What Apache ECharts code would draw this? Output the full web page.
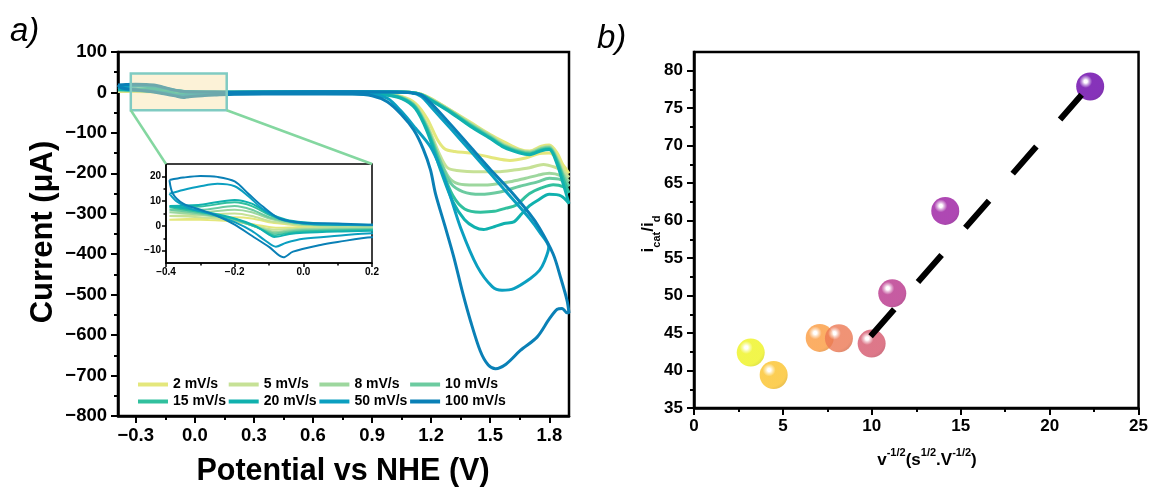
<!DOCTYPE html>
<html><head><meta charset="utf-8">
<script src="https://cdn.jsdelivr.net/npm/echarts@6/dist/echarts.min.js"></script>
<style>html,body{margin:0;padding:0;background:#fff}#c{width:1151px;height:491px}</style>
</head><body><div id="c"></div>
<script>
// ---------- data ----------
const scanRates = ['2 mV/s','5 mV/s','8 mV/s','10 mV/s','15 mV/s','20 mV/s','50 mV/s','100 mV/s'];
const cv2 = [[-0.39,2.5],[-0.3,2.5],[-0.2,1.7],[-0.14,0.5],[-0.1,-0.5],[-0.08,-0.8],[-0.04,-0.7],[0,-0.5],[0.1,-0.4],[0.2,-0.3],[0.5,-0.5],[0.8,-1],[0.95,-3],[1.05,-10],[1.12,-27],[1.18,-65],[1.23,-115],[1.27,-140],[1.32,-146],[1.4,-150],[1.5,-160],[1.6,-168],[1.68,-162],[1.74,-152],[1.8,-150],[1.85,-168],[1.9,-200],
  [1.87,-180],[1.84,-150],[1.8,-130],[1.76,-133],[1.7,-145],[1.65,-141],[1.57,-122],[1.5,-104],[1.4,-74],[1.3,-44],[1.2,-15],[1.15,-4],[1.1,0],[1.0,1],[0.6,1],[0.2,0.2],[0.1,-0.2],[0,0],[-0.05,0.7],[-0.1,1.5],[-0.15,3],[-0.2,3.5],[-0.3,3],[-0.39,2.5]];
const cv5 = [[-0.39,4],[-0.3,3.5],[-0.2,2],[-0.14,0],[-0.1,-1.3],[-0.085,-1.6],[-0.04,-1.3],[0,-1],[0.1,-0.8],[0.2,-0.7],[0.5,-1],[0.8,-1.5],[0.95,-3],[1.05,-11],[1.12,-32],[1.18,-80],[1.24,-150],[1.28,-185],[1.33,-193],[1.45,-196],[1.55,-196],[1.62,-192],[1.7,-186],[1.77,-178],[1.83,-185],[1.87,-195],[1.9,-210],
  [1.87,-192],[1.84,-160],[1.8,-133],[1.76,-136],[1.7,-147],[1.65,-143],[1.57,-128],[1.5,-106],[1.4,-76],[1.3,-45],[1.2,-16],[1.15,-4],[1.1,0],[1.0,1],[0.6,1],[0.2,0.2],[0.1,0],[0,0.3],[-0.05,1],[-0.1,2],[-0.15,4],[-0.2,5],[-0.3,4.5],[-0.39,4]];
const cv8 = [[-0.39,5.5],[-0.3,4.5],[-0.2,2.3],[-0.14,-0.3],[-0.1,-2],[-0.085,-2.4],[-0.04,-1.8],[0,-1.4],[0.1,-1.1],[0.2,-1],[0.5,-1.2],[0.8,-1.6],[0.95,-3.5],[1.05,-12],[1.12,-34],[1.18,-85],[1.24,-160],[1.29,-210],[1.34,-226],[1.42,-229],[1.5,-228],[1.6,-221],[1.68,-212],[1.74,-205],[1.8,-200],[1.86,-206],[1.9,-220],
  [1.87,-200],[1.84,-165],[1.8,-135],[1.76,-138],[1.7,-148],[1.65,-144],[1.57,-130],[1.5,-108],[1.4,-78],[1.3,-46],[1.2,-17],[1.15,-5],[1.1,0],[1.0,1],[0.6,1.2],[0.2,0.3],[0.1,0.2],[0,0.5],[-0.05,1.5],[-0.1,3],[-0.15,5.5],[-0.2,6.5],[-0.3,5.5],[-0.39,5.5]];
const cv10 = [[-0.39,6.5],[-0.3,5],[-0.2,2.5],[-0.14,-0.3],[-0.1,-2.5],[-0.085,-3],[-0.04,-2.3],[0,-1.8],[0.1,-1.5],[0.2,-1.3],[0.5,-1.5],[0.8,-2],[0.95,-4],[1.05,-13],[1.12,-35],[1.18,-88],[1.25,-175],[1.3,-225],[1.36,-245],[1.45,-252],[1.55,-246],[1.65,-232],[1.74,-221],[1.8,-212],[1.86,-216],[1.9,-232],
  [1.87,-205],[1.84,-168],[1.8,-137],[1.76,-140],[1.7,-150],[1.65,-146],[1.57,-132],[1.5,-110],[1.4,-80],[1.3,-47],[1.2,-18],[1.15,-5],[1.1,0],[1.0,1],[0.6,1.3],[0.2,0.4],[0.1,0.4],[0,0.8],[-0.05,2],[-0.1,3.5],[-0.15,6.5],[-0.2,8],[-0.3,6.5],[-0.39,6.5]];
const cv15 = [[-0.39,7.5],[-0.3,5.5],[-0.2,2.8],[-0.14,-0.3],[-0.1,-3],[-0.085,-3.8],[-0.04,-2.8],[0,-2.3],[0.1,-1.9],[0.2,-1.7],[0.5,-1.8],[0.8,-2.2],[0.95,-4.5],[1.05,-14],[1.12,-37],[1.18,-92],[1.25,-185],[1.31,-255],[1.37,-288],[1.45,-296],[1.52,-294],[1.58,-286],[1.63,-279],[1.7,-250],[1.76,-236],[1.82,-228],[1.87,-233],[1.9,-248],
  [1.87,-212],[1.84,-172],[1.8,-139],[1.76,-142],[1.7,-152],[1.65,-148],[1.57,-134],[1.5,-112],[1.4,-82],[1.3,-48],[1.2,-19],[1.15,-6],[1.1,0],[1.0,1],[0.6,1.4],[0.2,0.4],[0.1,0.5],[0,1],[-0.05,2],[-0.1,4.5],[-0.15,8],[-0.2,9.5],[-0.3,7.8],[-0.39,7.5]];
const cv20 = [[-0.39,8],[-0.3,6],[-0.2,3],[-0.14,0],[-0.1,-3.5],[-0.085,-4.5],[-0.04,-3.3],[0,-2.8],[0.1,-2.3],[0.2,-2],[0.5,-2],[0.8,-2.5],[0.95,-5],[1.05,-15],[1.12,-40],[1.18,-97],[1.25,-195],[1.31,-270],[1.37,-315],[1.42,-333],[1.467,-339],[1.52,-332],[1.57,-324],[1.62,-320],[1.66,-300],[1.7,-280],[1.74,-267],[1.8,-252],[1.86,-256],[1.9,-275],
  [1.87,-225],[1.84,-178],[1.8,-141],[1.76,-144],[1.7,-154],[1.65,-150],[1.57,-136],[1.5,-114],[1.4,-84],[1.3,-50],[1.2,-20],[1.15,-6],[1.1,0],[1.0,1],[0.6,1.5],[0.2,0.5],[0.1,0.6],[0,1.5],[-0.05,2.5],[-0.1,5],[-0.15,9],[-0.2,10.5],[-0.3,8.5],[-0.39,8]];
const cv50 = [[-0.39,13],[-0.37,10],[-0.33,7],[-0.3,6],[-0.25,4],[-0.2,1.5],[-0.15,-2],[-0.11,-6],[-0.08,-8.4],[-0.05,-6.8],[0,-5.2],[0.1,-4],[0.2,-3],[0.5,-2.5],[0.8,-3],[0.9,-5],[0.98,-15],[1.045,-45],[1.12,-88],[1.197,-135],[1.25,-190],[1.29,-245],[1.35,-335],[1.434,-430],[1.51,-480],[1.56,-489],[1.62,-485],[1.704,-460],[1.75,-440],[1.775,-418],[1.797,-383],
  [1.75,-345],[1.7,-312],[1.6,-256],[1.5,-200],[1.4,-145],[1.3,-90],[1.2,-36],[1.15,-10],[1.1,-1],[1.0,1],[0.6,1.5],[0.2,0.3],[0.1,0.5],[0,1],[-0.07,3],[-0.12,7],[-0.16,12],[-0.2,16],[-0.25,17],[-0.3,16],[-0.35,14.5],[-0.39,13]];
const cv100 = [[-0.39,18.5],[-0.38,13],[-0.35,9],[-0.3,6.5],[-0.25,4],[-0.2,0.5],[-0.15,-4],[-0.1,-8.5],[-0.058,-12.7],[-0.03,-10.4],[0.05,-7.7],[0.1,-6.5],[0.2,-4.6],[0.5,-3.5],[0.8,-4],[0.9,-8],[0.977,-23],[1.05,-55],[1.112,-93],[1.16,-140],[1.197,-192],[1.222,-250],[1.27,-330],[1.315,-407],[1.36,-495],[1.4,-565],[1.45,-640],[1.49,-674],[1.527,-683],[1.58,-672],[1.653,-638],[1.738,-605],[1.8,-560],[1.84,-536],[1.865,-534],[1.89,-545],[1.9,-545],
  [1.89,-514],[1.86,-462],[1.82,-400],[1.75,-335],[1.7,-300],[1.6,-242],[1.5,-190],[1.4,-135],[1.3,-80],[1.2,-27],[1.15,-6],[1.1,-1],[1.0,1],[0.6,1.5],[0.2,0.5],[0.1,1],[0,1.3],[-0.07,3],[-0.12,8],[-0.16,13],[-0.2,18],[-0.25,19.8],[-0.3,20.2],[-0.35,19.5],[-0.39,18.5]];
const cvData = [cv2, cv5, cv8, cv10, cv15, cv20, cv50, cv100];

const xMajorTicks = [-0.3, 0, 0.3, 0.6, 0.9, 1.2, 1.5, 1.8];
const xMinorTicks = [-0.15, 0.15, 0.45, 0.75, 1.05, 1.35, 1.65];
const insetXTicks = [-0.4, -0.2, 0, 0.2];
const insetXMinor = [-0.3, -0.1, 0.1];
const insetYTicks = [-10, 0, 10, 20];
const insetYMinor = [-5, 5, 15];
const zoomBox = [[-0.325, 47], [0.162, -44]];   // highlighted region in main plot

const ratioX = [3.19, 4.48, 7.07, 8.15, 9.99, 11.15, 14.13, 22.28];
const ratioY = [42.4, 39.4, 44.35, 44.3, 43.6, 50.3, 61.3, 77.9];
const yTicksB = [35, 40, 45, 50, 55, 60, 65, 70, 75, 80];
const yMinorB = [37.5, 42.5, 47.5, 52.5, 57.5, 62.5, 67.5, 72.5, 77.5];
const fitLine = [[9.93, 44.57], [21.8, 76.8]];

// ---------- styles ----------
const cvColors = ['#e4e77c', '#c6e196', '#9dd79e', '#6ccba0', '#31c09e', '#10b1ae', '#0b9fc0', '#0a80b6'];
const ballColors = ['#eef31f', '#fbc22a', '#fb9a3e', '#ec7853', '#d5566c', '#b8338a', '#9a1aa0', '#6800a8'];
const FF = 'Liberation Sans';

function hexToRgb(h){ return [parseInt(h.slice(1,3),16), parseInt(h.slice(3,5),16), parseInt(h.slice(5,7),16)]; }
function mix(h, t){ const c = hexToRgb(h); return 'rgb(' + c.map(v => Math.round(v + (255 - v) * t)).join(',') + ')'; }
function dark(h, t){ const c = hexToRgb(h); return 'rgb(' + c.map(v => Math.round(v * t)).join(',') + ')'; }
function ball(h){
  return new echarts.graphic.RadialGradient(0.34, 0.32, 0.72, [
    {offset: 0, color: '#ffffff'}, {offset: 0.08, color: '#ffffff'},
    {offset: 0.18, color: mix(h, 0.55)}, {offset: 0.32, color: h},
    {offset: 0.85, color: h}, {offset: 1, color: dark(h, 0.92)}]);
}
const minus = s => s.replace('-', '\u2212');
const tickLbl = (size) => ({color: '#000', fontFamily: FF, fontWeight: 'bold', fontSize: size});

const chart = echarts.init(document.getElementById('c'), null, {renderer: 'canvas'});

const series = [];
cvData.forEach((d, i) => {
  series.push({type: 'line', name: scanRates[i], data: d, xAxisIndex: 0, yAxisIndex: 0, symbol: 'none', smooth: 0.3,
    lineStyle: {width: 3, color: cvColors[i]}, itemStyle: {color: cvColors[i]}, z: 2, silent: true});
});
cvData.forEach((d, i) => {
  series.push({type: 'line', name: scanRates[i], data: d, xAxisIndex: 2, yAxisIndex: 1, symbol: 'none', smooth: 0.3,
    lineStyle: {width: 2, color: cvColors[i]}, itemStyle: {color: cvColors[i]}, z: 2, silent: true});
});
series.push({type: 'line', data: fitLine, xAxisIndex: 4, yAxisIndex: 3, symbol: 'none',
  lineStyle: {color: '#000', width: 6, type: [36, 36]}, z: 4, silent: true});
series.push({type: 'scatter', data: ratioX.map((x, i) => ({value: [x, ratioY[i]], itemStyle: {color: ball(ballColors[i])}})),
  xAxisIndex: 4, yAxisIndex: 3, symbolSize: 28, z: 3, silent: true});

const axisLineS = {show: true, onZero: false, lineStyle: {color: '#000', width: 2.5}};
const axisLineI = {show: true, onZero: false, lineStyle: {color: '#000', width: 1.5}};
const legends = [0, 1, 2, 3].map(c => ({
  orient: 'vertical', left: 138 + c * 90.7, top: 377.5, padding: 0, itemGap: 3,
  data: [scanRates[c], scanRates[c + 4]], icon: 'rect', itemWidth: 30, itemHeight: 4,
  selectedMode: false, textStyle: {fontSize: 14, fontWeight: 'bold', fontFamily: FF, color: '#000'}
}));

chart.setOption({
  animation: false,
  backgroundColor: '#fff',
  grid: [
    {left: 118, top: 52, width: 451, height: 364, show: true, borderColor: '#000', borderWidth: 2.5, backgroundColor: 'transparent'},
    {left: 166, top: 164, width: 206, height: 99, show: true, borderColor: '#000', borderWidth: 1.5, backgroundColor: '#fff'},
    {left: 694, top: 52, width: 445, height: 356, show: true, borderColor: '#000', borderWidth: 2.5, backgroundColor: 'transparent'}
  ],
  legend: legends,
  xAxis: [
    {gridIndex: 0, type: 'value', min: -0.39, max: 1.9, axisLine: axisLineS, splitLine: {show: false},
      axisTick: {customValues: xMajorTicks, length: 7, lineStyle: {width: 2, color: '#000'}},
      axisLabel: {customValues: xMajorTicks, margin: 10, ...tickLbl(18.5), formatter: v => minus(v.toFixed(1))}},
    {gridIndex: 0, type: 'value', min: -0.39, max: 1.9, position: 'bottom', axisLine: {show: false, onZero: false}, splitLine: {show: false},
      axisTick: {customValues: xMinorTicks, length: 4, lineStyle: {width: 2, color: '#000'}}, axisLabel: {show: false}},
    {gridIndex: 1, type: 'value', min: -0.4, max: 0.2, axisLine: axisLineI, splitLine: {show: false},
      axisTick: {customValues: insetXTicks, length: 4, lineStyle: {width: 1.5, color: '#000'}},
      axisLabel: {customValues: insetXTicks, margin: 4, ...tickLbl(10), formatter: v => minus(v.toFixed(1))}},
    {gridIndex: 1, type: 'value', min: -0.4, max: 0.2, position: 'bottom', axisLine: {show: false, onZero: false}, splitLine: {show: false},
      axisTick: {customValues: insetXMinor, length: 2.5, lineStyle: {width: 1.5, color: '#000'}}, axisLabel: {show: false}},
    {gridIndex: 2, type: 'value', min: 0, max: 25, interval: 5, axisLine: axisLineS, splitLine: {show: false},
      axisTick: {length: 7, lineStyle: {width: 2, color: '#000'}},
      minorTick: {show: true, splitNumber: 2, length: 4, lineStyle: {width: 2, color: '#000'}},
      axisLabel: {margin: 10, ...tickLbl(17)}}
  ],
  yAxis: [
    {gridIndex: 0, type: 'value', min: -800, max: 100, interval: 100, axisLine: axisLineS, splitLine: {show: false},
      axisTick: {length: 7, lineStyle: {width: 2, color: '#000'}},
      minorTick: {show: true, splitNumber: 2, length: 4, lineStyle: {width: 2, color: '#000'}},
      axisLabel: {margin: 11, ...tickLbl(18.5), formatter: v => minus(String(v))}},
    {gridIndex: 1, type: 'value', min: -15, max: 25, axisLine: axisLineI, splitLine: {show: false},
      axisTick: {customValues: insetYTicks, length: 4, lineStyle: {width: 1.5, color: '#000'}},
      axisLabel: {customValues: insetYTicks, margin: 5, ...tickLbl(10), formatter: v => minus(String(v))}},
    {gridIndex: 1, type: 'value', min: -15, max: 25, position: 'left', axisLine: {show: false, onZero: false}, splitLine: {show: false},
      axisTick: {customValues: insetYMinor, length: 2.5, lineStyle: {width: 1.5, color: '#000'}}, axisLabel: {show: false}},
    {gridIndex: 2, type: 'value', min: 35, max: 82.5, axisLine: axisLineS, splitLine: {show: false},
      axisTick: {customValues: yTicksB, length: 7, lineStyle: {width: 2, color: '#000'}},
      axisLabel: {customValues: yTicksB, margin: 11, ...tickLbl(17)}},
    {gridIndex: 2, type: 'value', min: 35, max: 82.5, position: 'left', axisLine: {show: false, onZero: false}, splitLine: {show: false},
      axisTick: {customValues: yMinorB, length: 4, lineStyle: {width: 2, color: '#000'}}, axisLabel: {show: false}}
  ],
  series: series
});

// annotations computed through the axes
const b0 = chart.convertToPixel({xAxisIndex: 0, yAxisIndex: 0}, zoomBox[0]);
const b1 = chart.convertToPixel({xAxisIndex: 0, yAxisIndex: 0}, zoomBox[1]);
const i0 = chart.convertToPixel({xAxisIndex: 2, yAxisIndex: 1}, [-0.4, 25]);
const i1 = chart.convertToPixel({xAxisIndex: 2, yAxisIndex: 1}, [0.2, 25]);

chart.setOption({
  graphic: [
    {type: 'rect', z: 100, shape: {x: b0[0], y: b0[1], width: b1[0] - b0[0], height: b1[1] - b0[1]},
      style: {fill: 'rgba(248,224,160,0.42)', stroke: '#80cbc2', lineWidth: 2.5}},
    {type: 'line', z: 100, shape: {x1: b0[0], y1: b1[1], x2: i0[0], y2: i0[1]}, style: {stroke: '#84d7a0', lineWidth: 2.5}},
    {type: 'line', z: 100, shape: {x1: b1[0], y1: b1[1], x2: i1[0], y2: i1[1]}, style: {stroke: '#84d7a0', lineWidth: 2.5}},
    {type: 'text', z: 100, left: 10, top: 15, style: {text: 'a)', font: 'italic 33px "Liberation Sans"', fill: '#000'}},
    {type: 'text', z: 100, left: 597, top: 22, style: {text: 'b)', font: 'italic 33px "Liberation Sans"', fill: '#000'}},
    {type: 'text', z: 100, x: 343, y: 472, style: {text: 'Potential vs NHE (V)', font: 'bold 30.5px "Liberation Sans"', fill: '#000', textAlign: 'center', textVerticalAlign: 'middle'}},
    {type: 'text', z: 100, x: 43, y: 232, rotation: Math.PI / 2, style: {text: 'Current (\u03bcA)', font: 'bold 31px "Liberation Sans"', fill: '#000', textAlign: 'center', textVerticalAlign: 'middle'}},
    {type: 'text', z: 100, x: 927, y: 458, style: {
      text: '{b|v}{s|-1/2}{b|(s}{s|1/2}{b|.V}{s|-1/2}{b|)}', textAlign: 'center', textVerticalAlign: 'middle',
      rich: {b: {fontSize: 17, fontWeight: 'bold', fontFamily: FF, fill: '#000', lineHeight: 22, verticalAlign: 'bottom'},
             s: {fontSize: 11, fontWeight: 'bold', fontFamily: FF, fill: '#000', lineHeight: 22, verticalAlign: 'top'}}}},
    {type: 'text', z: 100, x: 651, y: 234, rotation: Math.PI / 2, style: {
      text: '{b|i}{s|cat}{b|/i}{s|d}', textAlign: 'center', textVerticalAlign: 'middle',
      rich: {b: {fontSize: 17, fontWeight: 'bold', fontFamily: FF, fill: '#000', lineHeight: 22, verticalAlign: 'top'},
             s: {fontSize: 11, fontWeight: 'bold', fontFamily: FF, fill: '#000', lineHeight: 22, verticalAlign: 'bottom'}}}}
  ]
});
</script></body></html>
